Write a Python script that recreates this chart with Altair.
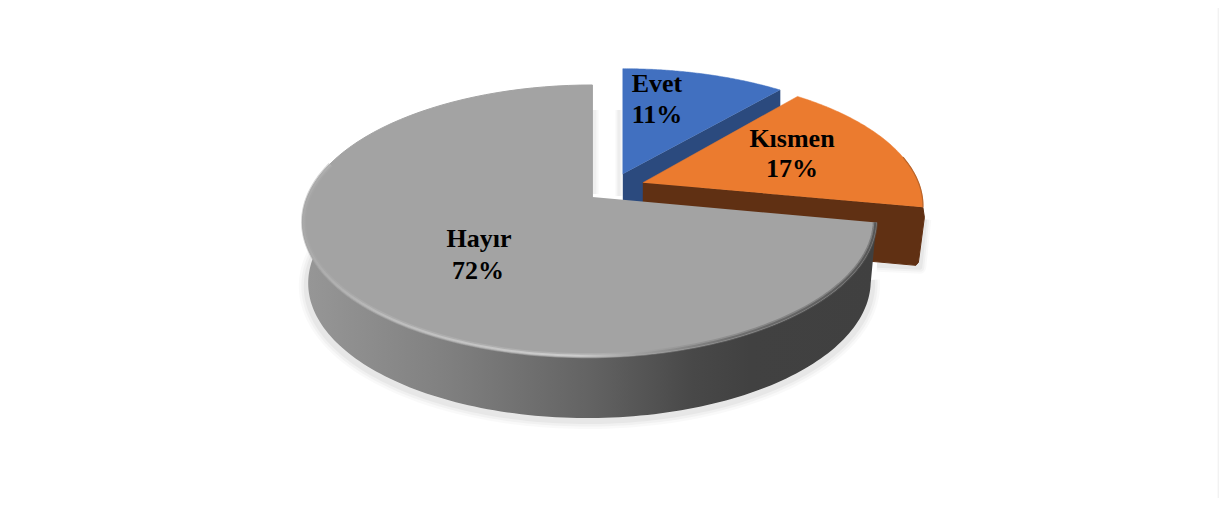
import math
import altair as alt
import pandas as pd

categories = ["Evet", "Kısmen", "Hayır"]
shares = [11, 17, 72]
top_colors = ["#4170C0", "#EB7B2F", "#A3A3A3"]
side_colors = ["#2B4A7E", "#603013", "#404040"]

PX, PY = 8, 8
W, H = 1211, 490
X_SCALE = alt.Scale(domain=[PX, PX + W], range=[0, W], nice=False, zero=False)
Y_SCALE = alt.Scale(domain=[PY, PY + H], range=[0, H], nice=False, zero=False)

# Perspective projection of a unit disc, fitted to the reference
TILT, RX, RY = 0.1765, 282.5, 131.8


def project(theta_deg, apex, sx=1.0, sy=1.0, dy=0.0, shear=0.0):
    t = math.radians(theta_deg)
    X, Y = math.cos(t), math.sin(t)
    d = 1 + TILT * Y
    return (apex[0] + sx * RX * X / d - shear * (1 - Y), apex[1] - sy * RY * Y / d + dy)


def arc(a0, a1, apex, sx=1.0, sy=1.0, dy=0.0, shear=0.0, n=90):
    return [project(a0 + (a1 - a0) * i / n, apex, sx, sy, dy, shear) for i in range(n + 1)]


def scale_axes():
    return dict(
        x=alt.X("x:Q", scale=X_SCALE, axis=None),
        y=alt.Y("y:Q", scale=Y_SCALE, axis=None),
        order=alt.Order("i:Q"),
    )


def path(points, **style):
    df = pd.DataFrame([{"x": p[0], "y": p[1], "i": i} for i, p in enumerate(points)])
    style.setdefault("strokeJoin", "round")
    return alt.Chart(df).mark_line(interpolate="linear", **style).encode(**scale_axes())


def grad(stops):
    return alt.Gradient(
        gradient="linear", x1=0, x2=1, y1=0, y2=0,
        stops=[alt.GradientStop(offset=o, color=c) for o, c in stops],
    )


# Slice angles from the shares, clockwise from the top
angles = [90.0]
for s in shares[:2]:
    angles.append(angles[-1] - s * 3.6)

BLUE = (622.8, 174.0)
ORANGE = (642.8, 182.7)
GRAY = (592.4, 197.0)
SHEAR = 2.5

blue_top = [BLUE] + arc(angles[0], angles[1], BLUE, sx=0.992, sy=0.94)
orange_top = [ORANGE] + arc(angles[1], angles[2], ORANGE, sx=0.976, sy=0.965)
gray_top = [GRAY] + arc(90, 90 + shares[2] * 3.6, GRAY, shear=SHEAR)

# Side walls
b_corner = blue_top[-1]
blue_wall = [BLUE, b_corner, (b_corner[0], b_corner[1] + 55), (BLUE[0], BLUE[1] + 55)]
o_corner = orange_top[-1]
orange_wall = [
    ORANGE, o_corner, (o_corner[0] + 1.5, o_corner[1] + 10),
    (o_corner[0] - 4.5, o_corner[1] + 55), (o_corner[0] - 7, o_corner[1] + 58),
    (ORANGE[0], ORANGE[1] + 58),
]
outer_top = arc(180, 349.2, GRAY, shear=SHEAR, n=140)
outer_bot = arc(180, 349.2, GRAY, sx=0.98, dy=61, shear=SHEAR, n=140)
gray_wall = outer_top + outer_bot[::-1]

layers = []

# Soft shadows
for width, op in [(16, 0.022), (11, 0.03), (6, 0.04)]:
    shadow = [(x, y + 3) for x, y in arc(175, 352, GRAY, sx=0.985, dy=61, shear=SHEAR, n=140)]
    layers.append(path(shadow, stroke="#000000", strokeWidth=width, opacity=op))
    layers.append(path([(o_corner[0] + 2, o_corner[1] + 12), (o_corner[0] - 3, o_corner[1] + 60),
                        (o_corner[0] - 46, o_corner[1] + 58)],
                       stroke="#000000", strokeWidth=width * 0.8, opacity=op))
    layers.append(path([(619, 110), (619, 196)], stroke="#000000", strokeWidth=width * 0.5, opacity=op * 0.8))
    layers.append(path([(GRAY[0] + 2, 110), (GRAY[0] + 2, 194)], stroke="#000000", strokeWidth=width * 0.6, opacity=op * 0.7))

# Evet
layers.append(path(blue_wall, fill=side_colors[0], stroke=side_colors[0], strokeWidth=0.5))
layers.append(path(blue_top, fill=top_colors[0], stroke=top_colors[0], strokeWidth=0.5))
# Kısmen
layers.append(path(orange_wall, fill=side_colors[1], stroke=side_colors[1], strokeWidth=1))
layers.append(path(orange_top, fill=top_colors[1], stroke=top_colors[1], strokeWidth=0.5))
layers.append(path(arc(12, angles[2], ORANGE, sx=0.976, sy=0.965, n=30), stroke="#B9642A", strokeWidth=1.2))
# Hayır
layers.append(path(gray_wall, strokeWidth=0, fill=grad([
    (0.0, "#979797"), (0.25, "#808080"), (0.5, "#636363"), (0.68, "#484848"), (0.78, "#414141"), (1.0, "#404040"),
])))
layers.append(path(gray_top, fill=top_colors[2], stroke=top_colors[2], strokeWidth=1))

# Bevel along the rim of the front face
rim = arc(165, 349.2, GRAY, sx=0.996, sy=0.992, shear=SHEAR, n=140)
rim_soft = grad([(0.0, "#A6A6A6"), (0.12, "#B4B4B4"), (0.5, "#BEBEBE"), (0.62, "#999999"), (0.8, "#6A6A6A"), (1.0, "#5A5A5A")])
rim_hard = grad([(0.0, "#AAAAAA"), (0.15, "#C0C0C0"), (0.48, "#D2D2D2"), (0.58, "#A0A0A0"), (0.75, "#6A6A6A"), (1.0, "#505050")])
layers.append(path(rim, stroke=rim_soft, strokeWidth=5, opacity=0.5))
layers.append(path(rim, stroke=rim_hard, strokeWidth=2, opacity=0.85))

# Frame remnant at the right of the picture
frame = pd.DataFrame({"x": [1218.3]})
layers.append(alt.Chart(frame).mark_rule(color="#F2F2F2", strokeWidth=1.4).encode(
    x=alt.X("x:Q", scale=X_SCALE, axis=None)))

# Labels
label_pos = {"Evet": (657, 84), "Kısmen": (792, 139), "Hayır": (479, 239)}
second_pos = {"Evet": (657, 115), "Kısmen": (792, 169), "Hayır": (478, 271)}
rows = []
for c, s in zip(categories, shares):
    rows.append({"t": c, "x": label_pos[c][0], "y": label_pos[c][1]})
    rows.append({"t": f"{s}%", "x": second_pos[c][0], "y": second_pos[c][1]})
layers.append(
    alt.Chart(pd.DataFrame(rows))
    .mark_text(font="Liberation Serif", fontWeight="bold", fontSize=26, color="#000000",
               align="center", baseline="middle")
    .encode(x=alt.X("x:Q", scale=X_SCALE, axis=None), y=alt.Y("y:Q", scale=Y_SCALE, axis=None), text="t:N")
)

chart = (
    alt.layer(*layers)
    .properties(width=W, height=H, padding=0, background="#FFFFFF",
                autosize=alt.AutoSizeParams(type="none"))
    .configure_view(stroke=None)
)
chart.save("out.html", embed_options={"renderer": "svg", "actions": False})
